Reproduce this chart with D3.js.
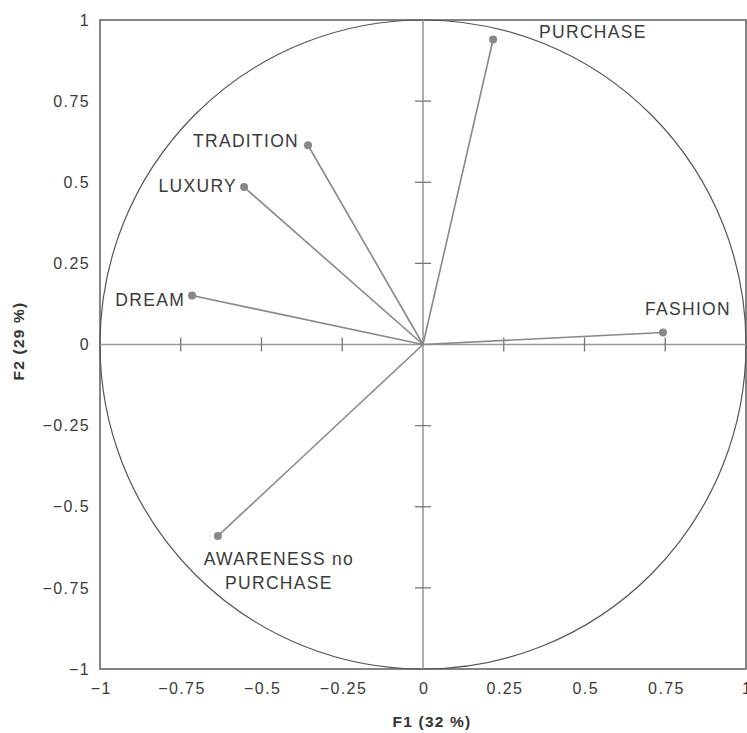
<!DOCTYPE html>
<html lang="en">
  <head>
    <meta charset="utf-8" />
    <title>PCA correlation circle</title>
    <script src="https://cdn.jsdelivr.net/npm/d3@7"></script>
    <style>
      body { margin: 0; background: #fff; }
      svg text { font-family: "Liberation Sans", Arial, sans-serif; fill: #3a3a3a; }
      .lbl { font-size: 17.5px; letter-spacing: 1.3px; }
      .title { font-size: 15.5px; font-weight: bold; fill: #333; letter-spacing: 1.2px; }
    </style>
  </head>
  <body>
    <script>
      var w = 747;
      var h = 733;

      // variables and their coordinates on F1 / F2
      var names = ["PURCHASE", "TRADITION", "LUXURY", "DREAM", "FASHION", "AWARENESS no PURCHASE"];
      var f1 = [0.217, -0.356, -0.554, -0.715, 0.743, -0.635];
      var f2 = [0.94, 0.614, 0.485, 0.151, 0.037, -0.59];
      var tickVals = [-1, -0.75, -0.5, -0.25, 0, 0.25, 0.5, 0.75, 1];
      var innerTicks = [-0.75, -0.5, -0.25, 0.25, 0.5, 0.75];

      var x = d3.scaleLinear().domain([-1, 1]).range([100, 746]);
      var y = d3.scaleLinear().domain([-1, 1]).range([669, 20]);

      var fmt = function (d) {
        return String(d).replace("-", "\u2212");
      };

      var svg = d3.select("body").append("svg").attr("width", w).attr("height", h);

      // frame
      svg.append("rect")
        .attr("x", x(-1)).attr("y", y(1))
        .attr("width", x(1) - x(-1)).attr("height", y(-1) - y(1))
        .attr("fill", "none").attr("stroke", "#666").attr("stroke-width", 1.6);

      // unit circle
      svg.append("ellipse")
        .attr("cx", x(0)).attr("cy", y(0))
        .attr("rx", x(1) - x(0)).attr("ry", y(-1) - y(0))
        .attr("fill", "none").attr("stroke", "#555").attr("stroke-width", 1.2);

      // zero lines
      svg.append("line")
        .attr("x1", x(-1)).attr("x2", x(1)).attr("y1", y(0)).attr("y2", y(0))
        .attr("stroke", "#999").attr("stroke-width", 1.6);
      svg.append("line")
        .attr("x1", x(0)).attr("x2", x(0)).attr("y1", y(-1)).attr("y2", y(1))
        .attr("stroke", "#999").attr("stroke-width", 1.6);

      // small ticks along the zero lines
      svg.selectAll(".xt").data(innerTicks).enter().append("line")
        .attr("x1", function (d) { return x(d); }).attr("x2", function (d) { return x(d); })
        .attr("y1", y(0) - 7).attr("y2", y(0) + 7)
        .attr("stroke", "#777").attr("stroke-width", 1.3);
      svg.selectAll(".yt").data(innerTicks).enter().append("line")
        .attr("y1", function (d) { return y(d); }).attr("y2", function (d) { return y(d); })
        .attr("x1", x(0) - 8).attr("x2", x(0) + 8)
        .attr("stroke", "#777").attr("stroke-width", 1.3);

      // axes labels
      var xAxis = d3.axisBottom(x).tickValues(tickVals).tickFormat(fmt).tickSize(0).tickPadding(14);
      var gx = svg.append("g").attr("transform", "translate(0," + y(-1) + ")").call(xAxis);
      gx.select(".domain").remove();
      gx.selectAll(".tick text").attr("dx", "0.7px");

      var yAxis = d3.axisLeft(y).tickValues(tickVals).tickFormat(fmt).tickSize(0).tickPadding(10);
      var gy = svg.append("g").attr("transform", "translate(" + x(-1) + ",0)").call(yAxis);
      gy.select(".domain").remove();
      svg.selectAll(".tick text")
        .attr("fill", "#3a3a3a")
        .style("font-size", "16px")
        .style("letter-spacing", "1.4px")
        .style("font-family", "'Liberation Sans', Arial, sans-serif");

      svg.append("text").attr("class", "title")
        .attr("x", 432).attr("y", 727).attr("text-anchor", "middle")
        .text("F1 (32 %)");
      svg.append("text").attr("class", "title")
        .attr("transform", "translate(24,341) rotate(-90)")
        .attr("text-anchor", "middle")
        .text("F2 (29 %)");

      var pts = names.map(function (n, i) {
        return { name: n, f1: f1[i], f2: f2[i] };
      });

      // vectors
      svg.selectAll(".vec").data(pts).enter().append("line")
        .attr("x1", x(0)).attr("y1", y(0))
        .attr("x2", function (d) { return x(d.f1); })
        .attr("y2", function (d) { return y(d.f2); })
        .attr("stroke", "#888").attr("stroke-width", 1.6);

      svg.selectAll(".pt").data(pts).enter().append("circle")
        .attr("cx", function (d) { return x(d.f1); })
        .attr("cy", function (d) { return y(d.f2); })
        .attr("r", 4).attr("fill", "#888");

      // label placement relative to each point
      var place = {
        "PURCHASE": { dx: 46, dy: -8, anchor: "start" },
        "TRADITION": { dx: -9, dy: -4, anchor: "end" },
        "LUXURY": { dx: -7, dy: -1, anchor: "end" },
        "DREAM": { dx: -7, dy: 4, anchor: "end" },
        "FASHION": { dx: 25, dy: -24, anchor: "middle" },
        "AWARENESS no PURCHASE": { dx: 61, dy: 23, anchor: "middle" }
      };

      pts.forEach(function (d) {
        var p = place[d.name];
        var t = svg.append("text").attr("class", "lbl")
          .attr("x", x(d.f1) + p.dx).attr("y", y(d.f2) + p.dy)
          .attr("text-anchor", p.anchor).attr("dy", "0.35em");
        if (d.name === "AWARENESS no PURCHASE") {
          t.append("tspan").attr("x", x(d.f1) + p.dx).text("AWARENESS no");
          t.append("tspan").attr("x", x(d.f1) + p.dx).attr("dy", "24px").text("PURCHASE");
        } else {
          t.text(d.name);
        }
      });
    </script>
  </body>
</html>
